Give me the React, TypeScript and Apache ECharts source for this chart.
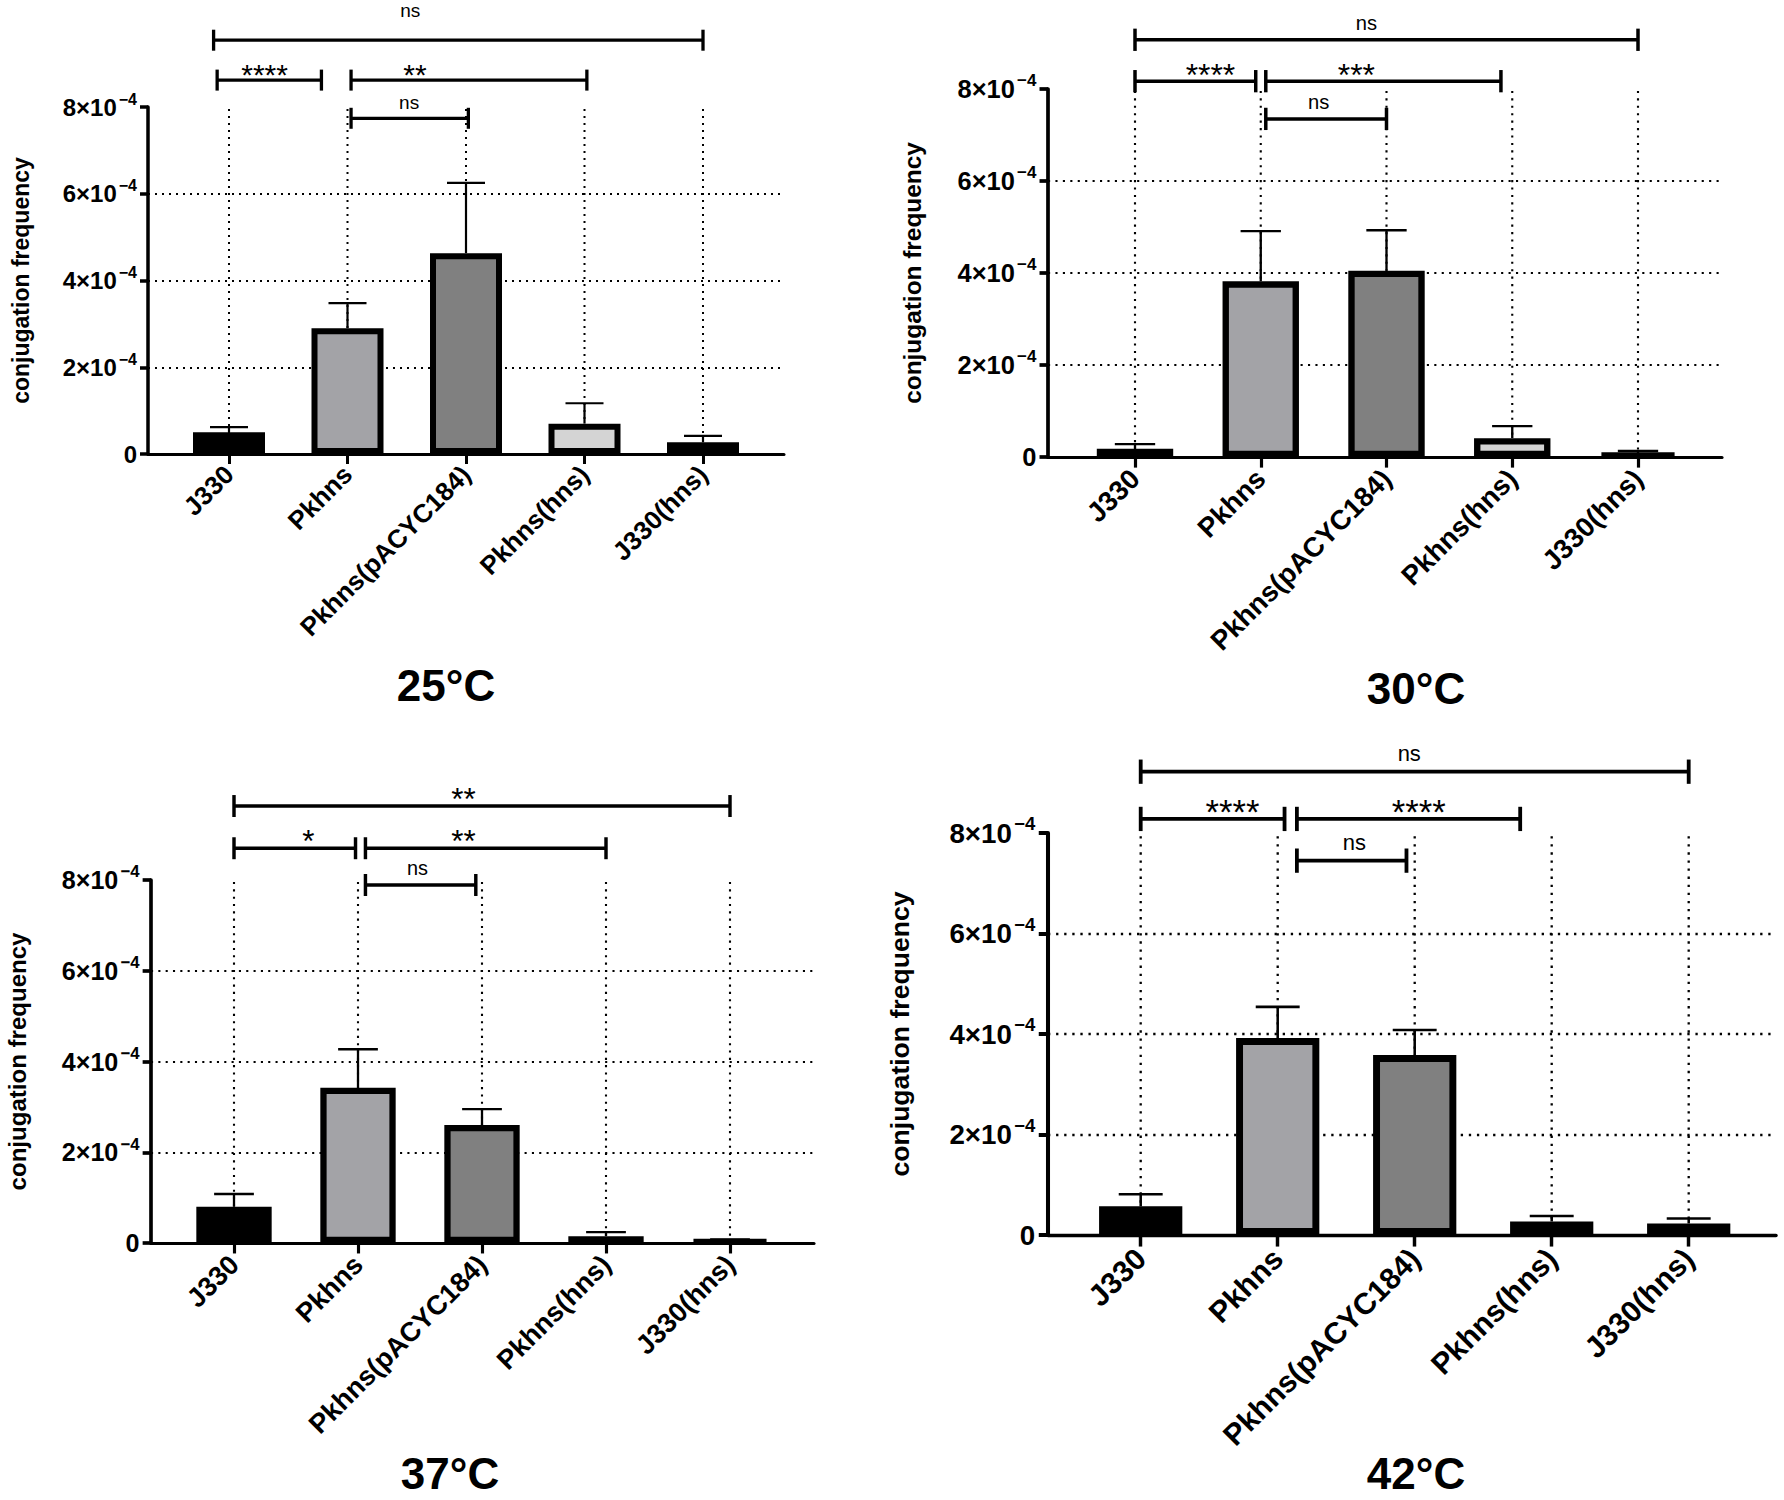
import React, { useEffect, useRef } from 'react';
import * as echarts from 'echarts';

// ---------- data (values in units of 10^-4) ----------
const categories = ['J330', 'Pkhns', 'Pkhns(pACYC184)', 'Pkhns(hns)', 'J330(hns)'];
const barColors = ['#000000', '#a3a3a7', '#808080', '#d4d4d4', '#ffffff'];
const yTicks = [0, 2, 4, 6, 8];
const temps = ['25°C', '30°C', '37°C', '42°C'];

const mean25 = [0.5, 2.9, 4.63, 0.7, 0.27];
const sd25 = [0.12, 0.58, 1.62, 0.47, 0.15];
const mean30 = [0.18, 3.82, 4.05, 0.41, 0.07];
const sd30 = [0.1, 1.09, 0.88, 0.26, 0.06];
const mean37 = [0.8, 3.42, 2.6, 0.15, 0.05];
const sd37 = [0.28, 0.85, 0.35, 0.09, 0.03];
const mean42 = [0.57, 3.92, 3.58, 0.27, 0.23];
const sd42 = [0.24, 0.62, 0.5, 0.11, 0.1];

// significance brackets: from/to in category units, level in 10^-4 units
const brackets25 = [
  { from: -0.13, to: 4, level: 9.54, text: 'ns', textAt: 1.53, lift: 14 },
  { from: -0.1, to: 0.78, level: 8.62, text: '****', textAt: 0.3 },
  { from: 1.03, to: 3.02, level: 8.62, text: '**', textAt: 1.57 },
  { from: 1.03, to: 2.02, level: 7.74, text: 'ns', textAt: 1.52 },
];
const brackets30 = [
  { from: 0, to: 4, level: 9.07, text: 'ns', textAt: 1.84 },
  { from: 0, to: 0.96, level: 8.17, text: '****', textAt: 0.6 },
  { from: 1.04, to: 2.91, level: 8.17, text: '***', textAt: 1.76 },
  { from: 1.04, to: 2.0, level: 7.35, text: 'ns', textAt: 1.46 },
];
const brackets37 = [
  { from: 0, to: 4, level: 9.63, text: '**', textAt: 1.85 },
  { from: 0, to: 0.98, level: 8.7, text: '*', textAt: 0.6 },
  { from: 1.06, to: 3.0, level: 8.7, text: '**', textAt: 1.85 },
  { from: 1.06, to: 1.95, level: 7.89, text: 'ns', textAt: 1.48 },
];
const brackets42 = [
  { from: 0, to: 4, level: 9.22, text: 'ns', textAt: 1.96 },
  { from: 0, to: 1.05, level: 8.28, text: '****', textAt: 0.67 },
  { from: 1.14, to: 2.77, level: 8.28, text: '****', textAt: 2.03 },
  { from: 1.14, to: 1.94, level: 7.45, text: 'ns', textAt: 1.56 },
];

const means = [mean25, mean30, mean37, mean42];
const sds = [sd25, sd30, sd37, sd42];
const brackets = [brackets25, brackets30, brackets37, brackets42];

// ---------- layout (pixels) ----------
const panels = [
  { left: 148, right: 784, top: 107, bottom: 454, c0: 229, sp: 118.5, tx: 446, ty: 685 },
  { left: 1048, right: 1722, top: 89, bottom: 457, c0: 1135, sp: 125.75, tx: 1416, ty: 688 },
  { left: 151, right: 814, top: 880, bottom: 1243, c0: 234, sp: 124, tx: 450, ty: 1473 },
  { left: 1048, right: 1776, top: 833, bottom: 1235, c0: 1140.7, sp: 137, tx: 1416, ty: 1473 },
];

const FONT = '"Liberation Sans", Arial, Helvetica, sans-serif';

function buildOption() {
  const grid: any[] = [];
  const xAxis: any[] = [];
  const yAxis: any[] = [];
  const series: any[] = [];
  const graphic: any[] = [];
  const tickIdx = categories.map((_, i) => i);

  panels.forEach((p, k) => {
    const s = p.sp / 118.5;
    const xMin = (p.left - p.c0) / p.sp;
    const xMax = (p.right - p.c0) / p.sp;
    grid.push({ left: p.left, top: p.top, width: p.right - p.left, height: p.bottom - p.top, containLabel: false });
    xAxis.push({
      type: 'value', gridIndex: k, min: xMin, max: xMax,
      axisLine: { show: true, onZero: false, lineStyle: { color: '#000', width: 3 * s } },
      axisTick: { show: true, customValues: tickIdx, length: 10 * s, lineStyle: { color: '#000', width: 3 * s } },
      axisLabel: {
        show: true, customValues: tickIdx, rotate: 45, margin: 16 * s,
        formatter: (v: number) => categories[Math.round(v)] ?? '',
        color: '#000', fontFamily: FONT, fontWeight: 'bold', fontSize: 26 * s,
      },
      splitLine: { show: false },
    });
    yAxis.push({
      type: 'value', gridIndex: k, min: yTicks[0], max: yTicks[yTicks.length - 1], interval: yTicks[1] - yTicks[0],
      name: 'conjugation frequency', nameLocation: 'middle', nameGap: 116 * s,
      nameTextStyle: { color: '#000', fontFamily: FONT, fontWeight: 'bold', fontSize: 23 * s },
      axisLine: { show: true, onZero: false, lineStyle: { color: '#000', width: 3.5 * s } },
      axisTick: { show: true, length: 8 * s, lineStyle: { color: '#000', width: 3.5 * s } },
      axisLabel: {
        margin: 11 * s,
        formatter: (v: number) => (v === 0 ? '{a|0}' : `{a|${v}×10}{b|−4}`),
        rich: {
          a: { fontFamily: FONT, fontWeight: 'bold', fontSize: 24 * s, color: '#000', lineHeight: 32 * s },
          b: { fontFamily: FONT, fontWeight: 'bold', fontSize: 16 * s, color: '#000', lineHeight: 16 * s, verticalAlign: 'top', padding: [0, 0, 0, 2 * s] },
        },
      },
      splitLine: {
        show: true, showMinLine: false, showMaxLine: false,
        lineStyle: { color: '#000', width: 2 * s, type: [2 * s, 5 * s] },
      },
    });

    const yTop = yTicks[yTicks.length - 1];
    // vertical dotted grid lines at category centres
    series.push({
      type: 'custom', xAxisIndex: k, yAxisIndex: k, z: 1, silent: true, clip: false,
      data: categories.map((_, i) => [i, 0]),
      renderItem: (params: any, api: any) => {
        const i = api.value(0);
        const a = api.coord([i, 0]);
        const b = api.coord([i, yTop]);
        return {
          type: 'line', shape: { x1: a[0], y1: a[1], x2: b[0], y2: b[1] },
          style: { stroke: '#000', lineWidth: 2 * s, lineDash: [2 * s, 5 * s] },
        };
      },
    });
    // bars
    series.push({
      type: 'bar', xAxisIndex: k, yAxisIndex: k, z: 2, barWidth: 72 * s, silent: true,
      data: means[k].map((v, i) => ({
        value: [i, v],
        itemStyle: { color: barColors[i], borderColor: '#000', borderWidth: 6 * s },
      })),
    });
    // error bars (upper only)
    series.push({
      type: 'custom', xAxisIndex: k, yAxisIndex: k, z: 3, silent: true, clip: false,
      data: means[k].map((v, i) => [i, v, sds[k][i]]),
      renderItem: (params: any, api: any) => {
        const i = api.value(0);
        const m = api.value(1);
        const e = api.value(2);
        const a = api.coord([i, m]);
        const b = api.coord([i, m + e]);
        const half = 19 * s;
        const st = { stroke: '#000', lineWidth: 2.2 * s };
        return {
          type: 'group', children: [
            { type: 'line', shape: { x1: a[0], y1: a[1], x2: b[0], y2: b[1] }, style: st },
            { type: 'line', shape: { x1: b[0] - half, y1: b[1], x2: b[0] + half, y2: b[1] }, style: st },
          ],
        };
      },
    });
    // significance brackets
    const br = brackets[k];
    series.push({
      type: 'custom', xAxisIndex: k, yAxisIndex: k, z: 4, silent: true, clip: false,
      data: br.map((b) => [b.from, b.level]),
      renderItem: (params: any, api: any) => {
        const b: any = br[params.dataIndex];
        const p1 = api.coord([b.from, b.level]);
        const p2 = api.coord([b.to, b.level]);
        const pt = api.coord([b.textAt, b.level]);
        const lw = 3.3 * s;
        const th = 10.5 * s;
        const st = { stroke: '#000', lineWidth: lw };
        const star = b.text.indexOf('*') >= 0;
        const dy = star ? -6 * s : -(16 + (b.lift || 0)) * s;
        return {
          type: 'group', children: [
            { type: 'line', shape: { x1: p1[0], y1: p1[1], x2: p2[0], y2: p2[1] }, style: st },
            { type: 'line', shape: { x1: p1[0], y1: p1[1] - th, x2: p1[0], y2: p1[1] + th }, style: st },
            { type: 'line', shape: { x1: p2[0], y1: p2[1] - th, x2: p2[0], y2: p2[1] + th }, style: st },
            {
              type: 'text', x: pt[0], y: pt[1] + dy,
              style: {
                text: b.text, fill: '#000', fontFamily: FONT,
                fontSize: (star ? 30 : 19) * s, fontWeight: 'normal',
                align: 'center', verticalAlign: 'middle',
              },
            },
          ],
        };
      },
    });

    graphic.push({
      type: 'text', x: p.tx, y: p.ty, silent: true,
      style: {
        text: temps[k], fill: '#000', fontFamily: FONT, fontWeight: 'bold', fontSize: 44,
        align: 'center', verticalAlign: 'middle',
      },
    });
  });

  return {
    animation: false,
    backgroundColor: '#ffffff',
    grid, xAxis, yAxis, series, graphic,
  };
}

export default function App() {
  const ref = useRef<HTMLDivElement>(null);
  useEffect(() => {
    document.body.style.margin = '0';
    if (!ref.current) return;
    const chart = echarts.init(ref.current, undefined, { renderer: 'svg' });
    chart.setOption(buildOption() as any);
    return () => chart.dispose();
  }, []);
  return <div ref={ref} style={{ width: 1784, height: 1500, background: '#fff' }} />;
}
